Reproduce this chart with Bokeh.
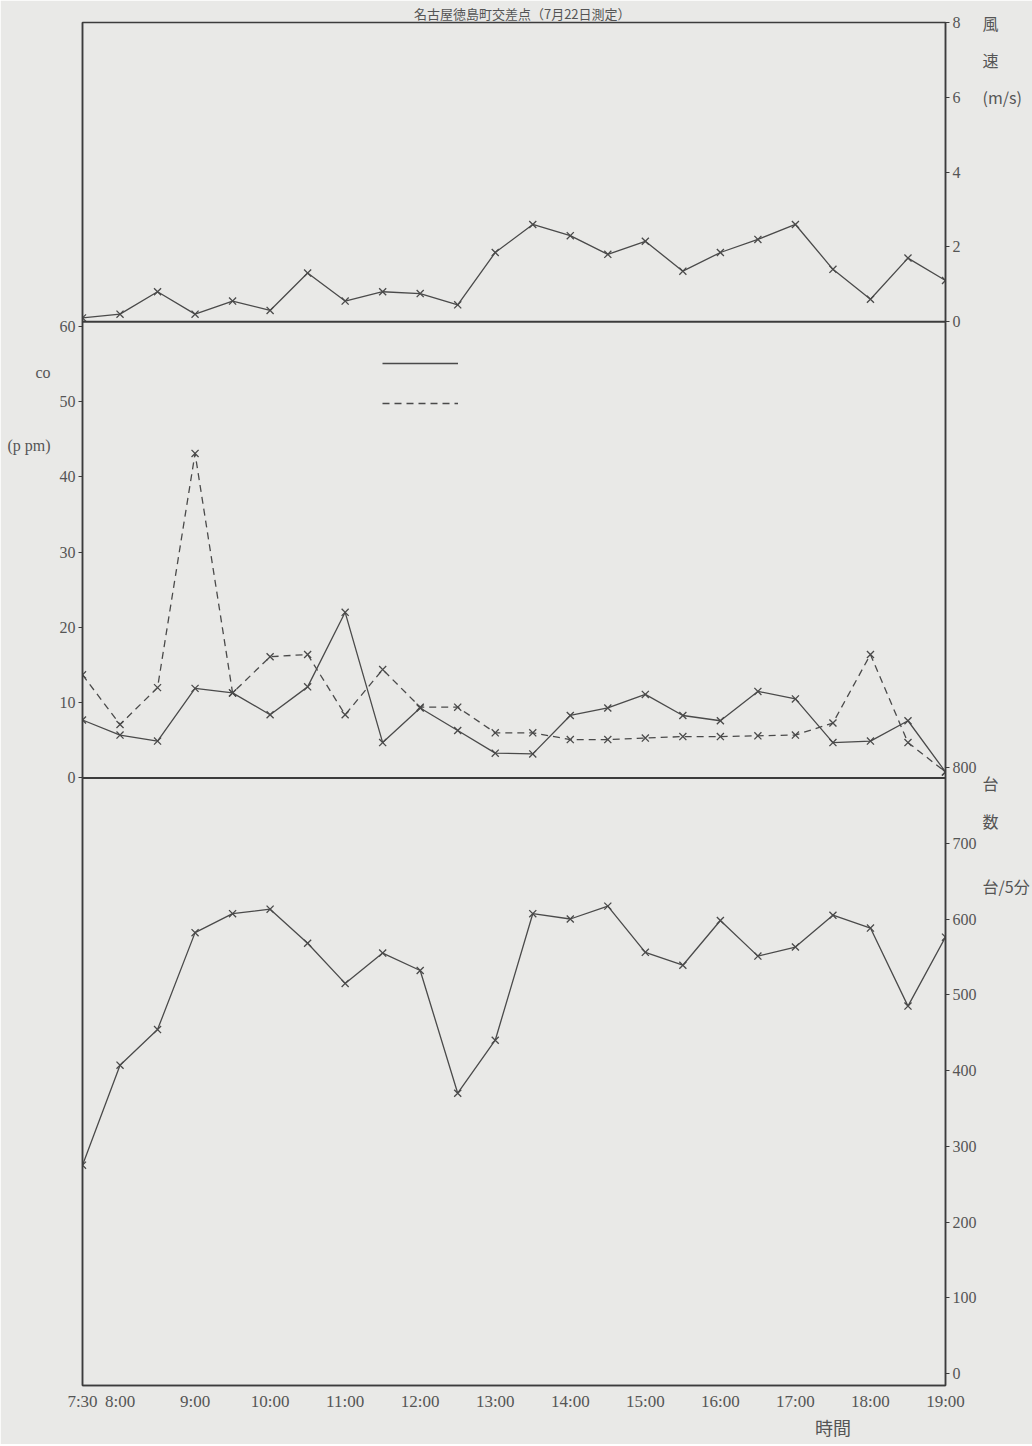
from bokeh.plotting import figure
from bokeh.models import (Range1d, LinearAxis, FixedTicker, CustomJSTickFormatter,
                          Span, Legend, LegendItem, ColumnDataSource)
from bokeh.embed import file_html
from bokeh.resources import INLINE

# ---------------- data ----------------
hours = [7.5, 8.0, 8.5, 9.0, 9.5, 10.0, 10.5, 11.0, 11.5, 12.0, 12.5, 13.0,
         13.5, 14.0, 14.5, 15.0, 15.5, 16.0, 16.5, 17.0, 17.5, 18.0, 18.5, 19.0]
wind_speed = [0.1, 0.2, 0.8, 0.2, 0.55, 0.3, 1.3, 0.55, 0.8, 0.75, 0.45, 1.85,
              2.6, 2.3, 1.8, 2.15, 1.35, 1.85, 2.2, 2.6, 1.4, 0.6, 1.7, 1.1]
co_solid = [7.7, 5.7, 4.9, 11.9, 11.3, 8.4, 12.1, 22.0, 4.7, 9.3, 6.3, 3.3,
            3.2, 8.3, 9.3, 11.1, 8.3, 7.6, 11.5, 10.5, 4.7, 4.9, 7.6, 0.8]
co_dashed = [13.7, 7.1, 12.0, 43.1, 11.3, 16.1, 16.4, 8.4, 14.4, 9.4, 9.4, 6.0,
             6.0, 5.1, 5.1, 5.3, 5.5, 5.5, 5.6, 5.7, 7.3, 16.4, 4.7, 0.8]
traffic = [275, 407, 454, 582, 607, 613, 568, 515, 555, 532, 370, 440,
           607, 600, 617, 556, 539, 598, 551, 563, 605, 588, 485, 576]

x_tick_pos = [7.5, 8, 9, 10, 11, 12, 13, 14, 15, 16, 17, 18, 19]
x_tick_labels = ["7:30", "8:00", "9:00", "10:00", "11:00", "12:00", "13:00",
                 "14:00", "15:00", "16:00", "17:00", "18:00", "19:00"]
wind_ticks = [0, 2, 4, 6, 8]
co_ticks = [0, 10, 20, 30, 40, 50, 60]
traffic_ticks = [0, 100, 200, 300, 400, 500, 600, 700, 800]

title_text = "名古屋徳島町交差点（7月22日測定）"
wind_title = ["風", "速", "(m/s)"]
traffic_title = ["台", "数", "台/5分"]
co_title = ["co", "(p pm)"]
x_title = "時間"

# ---------------- ranges (three stacked panels share one frame) ----------------
W_LO, W_HI = -28.47, 8.005     # wind speed (top panel)
C_LO, C_HI = -80.68, 100.33    # CO (middle panel)
T_LO, T_HI = -15.84, 1783.5    # traffic (bottom panel)

PAPER = "#e9e9e7"
INK = "#3c3c3c"
TXT = "#555555"


def wind_to_t(w):
    return T_LO + (w - W_LO) / (W_HI - W_LO) * (T_HI - T_LO)


def fmt(pos, labs):
    return CustomJSTickFormatter(args=dict(pos=pos, labs=labs), code="""
    let b = 0, d = Infinity;
    for (let i = 0; i < pos.length; i++) {
        const e = Math.abs(pos[i] - tick);
        if (e < d) { d = e; b = i; }
    }
    return labs[b];
    """)


p = figure(width=1032, height=1444, output_backend="svg", toolbar_location=None,
           x_range=Range1d(7.5, 19.0), y_range=Range1d(T_LO, T_HI),
           y_axis_location="right",
           min_border_left=82, min_border_right=87, min_border_top=22,
           min_border_bottom=59)
p.extra_y_ranges = {"wind": Range1d(W_LO, W_HI), "co": Range1d(C_LO, C_HI)}
p.background_fill_color = PAPER
p.border_fill_color = PAPER
p.outline_line_color = INK
p.outline_line_width = 1.5
p.xgrid.visible = False
p.ygrid.visible = False

# ---- right axis: traffic + wind ticks on one axis line ----
wind_pos = [wind_to_t(w) for w in wind_ticks]
ry = p.yaxis[0]
ry.ticker = FixedTicker(ticks=traffic_ticks + wind_pos)
ry.formatter = fmt([float(t) for t in traffic_ticks] + wind_pos,
                   [str(t) for t in traffic_ticks] + [str(w) for w in wind_ticks])

# ---- left axis: CO ----
ly = LinearAxis(y_range_name="co", ticker=FixedTicker(ticks=co_ticks))
p.add_layout(ly, "left")

for ax in (ry, ly):
    ax.axis_line_color = INK
    ax.axis_line_width = 1.5
    ax.major_tick_line_color = INK
    ax.major_tick_in = 0
    ax.major_tick_out = 4
    ax.minor_tick_line_color = None
    ax.major_label_text_font = "Liberation Serif"
    ax.major_label_text_font_size = "16px"
    ax.major_label_text_color = TXT
    ax.major_label_standoff = 3

# ---- x axis ----
xa = p.xaxis[0]
xa.ticker = FixedTicker(ticks=x_tick_pos)
xa.formatter = fmt([float(x) for x in x_tick_pos], x_tick_labels)
xa.axis_line_color = INK
xa.axis_line_width = 1.5
xa.major_tick_line_color = None
xa.major_tick_out = 0
xa.major_tick_in = 0
xa.minor_tick_line_color = None
xa.major_label_text_font = "Liberation Serif"
xa.major_label_text_font_size = "17px"
xa.major_label_text_color = TXT
xa.major_label_standoff = 6


# ---- text-only axes carrying the panel titles ----
def text_axis(side, pos, labs, rng=None, font="Noto Sans CJK JP", size="17px",
              standoff=4):
    kw = {}
    if rng:
        kw["y_range_name"] = rng
    ax = LinearAxis(ticker=FixedTicker(ticks=pos), formatter=fmt(pos, labs), **kw)
    ax.axis_line_color = None
    ax.major_tick_line_color = None
    ax.major_tick_in = 0
    ax.major_tick_out = 0
    ax.minor_tick_line_color = None
    ax.major_label_text_font = font
    ax.major_label_text_font_size = size
    ax.major_label_text_color = TXT
    ax.major_label_standoff = standoff
    p.add_layout(ax, side)
    return ax


# right: 風 速 (m/s)  and 台 数 台/5分
right_pos = [wind_to_t(8.0), wind_to_t(7.0), wind_to_t(6.0), 780.0, 730.0, 644.0]
text_axis("right", right_pos, wind_title + traffic_title, size="16px", standoff=3)
# left: co (p pm)
text_axis("left", [53.9, 44.2], co_title, rng="co", font="Liberation Serif",
          size="16px", standoff=6)
# bottom: 時間
text_axis("below", [17.5], [x_title], size="18px", standoff=0)
# top: title
text_axis("above", [13.36], [title_text], size="13px", standoff=0)

# ---- panel separators ----
p.add_layout(Span(location=0, dimension="width", y_range_name="wind",
                  line_color=INK, line_width=2))
p.add_layout(Span(location=0, dimension="width", y_range_name="co",
                  line_color=INK, line_width=2))

src = ColumnDataSource(dict(h=hours, wind=wind_speed, cs=co_solid,
                            cd=co_dashed, tr=traffic))

LC = "#4a4a4a"
LW = 1.3
MS = 10

# wind speed
p.line("h", "wind", source=src, y_range_name="wind", line_color=LC, line_width=LW)
p.scatter("h", "wind", source=src, y_range_name="wind", marker="x", size=MS,
          line_color=LC, line_width=LW)

# CO
r_solid = p.line("h", "cs", source=src, y_range_name="co", line_color=LC, line_width=LW)
p.scatter("h", "cs", source=src, y_range_name="co", marker="x", size=MS,
          line_color=LC, line_width=LW)
r_dash = p.line("h", "cd", source=src, y_range_name="co", line_color=LC,
                line_width=LW, line_dash="7 5")
p.scatter("h", "cd", source=src, y_range_name="co", marker="x", size=MS,
          line_color=LC, line_width=LW)

# traffic
p.line("h", "tr", source=src, line_color=LC, line_width=LW)
p.scatter("h", "tr", source=src, marker="x", size=MS, line_color=LC, line_width=LW)

# legend (line samples only, as in the original)
leg = Legend(items=[LegendItem(label=" ", renderers=[r_solid]),
                    LegendItem(label=" ", renderers=[r_dash])],
             location=(300, 972), glyph_width=76, glyph_height=20,
             label_height=20, spacing=20, padding=0, margin=0,
             border_line_color=None, background_fill_alpha=0,
             label_standoff=0, label_width=0)
p.add_layout(leg)

open("out.html", "w").write(file_html(p, INLINE))
